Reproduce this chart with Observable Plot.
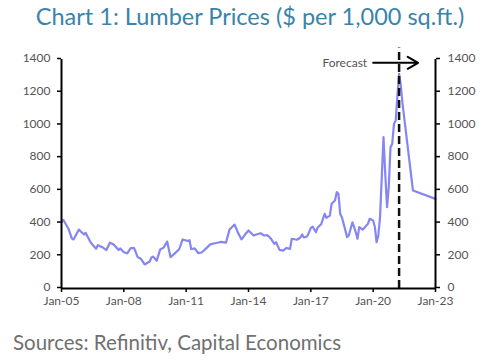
<!DOCTYPE html>
<html>
<head>
<meta charset="utf-8">
<script src="https://cdn.jsdelivr.net/npm/d3@7"></script>
<script src="https://cdn.jsdelivr.net/npm/@observablehq/plot@0.6"></script>
<style>
  html, body { margin: 0; padding: 0; background: #fff; }
  #wrap { position: relative; width: 500px; height: 361px; overflow: hidden; font-family: Lato, "Open Sans", sans-serif; }
  #title { position: absolute; left: 0; top: 2px; width: 500px; text-align: center; font-size: 23.5px; color: #3a84aa; white-space: nowrap; }
  #source { position: absolute; left: 13px; top: 330px; font-size: 20.5px; color: #707070; white-space: nowrap; }
  svg text { font-family: Lato, "Open Sans", sans-serif; }
</style>
</head>
<body>
<div id="wrap">
  <div id="chart"></div>
  <div id="title">Chart 1: Lumber Prices ($ per 1,000 sq.ft.)</div>
  <div id="source">Sources: Refinitiv, Capital Economics</div>
</div>
<script>
const months = [
  "2005-01","2005-02","2005-05","2005-07","2005-08","2005-11",
  "2006-02","2006-03","2006-06","2006-09","2006-10",
  "2007-01","2007-03","2007-05","2007-07","2007-08","2007-10","2007-11",
  "2008-01","2008-03","2008-05","2008-07","2008-09","2008-11",
  "2009-01","2009-04","2009-05","2009-06","2009-08","2009-10","2009-12",
  "2010-02","2010-04","2010-06","2010-09","2010-11",
  "2011-02","2011-03","2011-04","2011-06","2011-08","2011-10",
  "2012-01","2012-03","2012-05","2012-07","2012-09","2012-12",
  "2013-02","2013-03","2013-05","2013-07","2013-09","2013-11",
  "2014-01","2014-02","2014-04","2014-06","2014-08","2014-10","2014-12",
  "2015-02","2015-04","2015-05","2015-07","2015-09","2015-11",
  "2016-01","2016-02","2016-05","2016-07","2016-08","2016-09","2016-11",
  "2017-01","2017-02","2017-04","2017-05","2017-07","2017-09","2017-10","2017-12",
  "2018-01","2018-03","2018-04","2018-05","2018-06","2018-07","2018-10","2018-11",
  "2019-01","2019-02","2019-03","2019-04","2019-05","2019-07","2019-08","2019-10","2019-11",
  "2020-01","2020-02","2020-03","2020-04","2020-05","2020-07","2020-08","2020-09","2020-10","2020-11","2020-12",
  "2021-01","2021-02","2021-03","2021-04","2021-05","2021-06","2021-12",
  "2023-01"
];
const prices = [
  405,420,367,306,300,360,
  330,340,280,243,265,
  250,235,280,270,260,235,245,
  222,215,247,247,192,180,
  147,165,190,195,170,238,250,
  287,192,210,240,300,
  290,295,240,245,216,220,
  250,270,275,280,285,280,
  360,370,391,340,300,330,
  355,344,324,332,338,324,326,
  304,273,283,236,232,248,
  242,304,298,312,330,312,320,
  371,378,344,373,393,456,432,446,
  518,538,589,579,456,436,314,326,
  405,375,344,304,375,360,371,395,426,
  416,375,283,324,436,925,701,497,619,864,884,
  1007,1027,1170,1313,1241,1129,599,
  548
];
const xTickMonths = ["2005-01","2008-01","2011-01","2014-01","2017-01","2020-01","2023-01"];
const yTicks = [0,200,400,600,800,1000,1200,1400];
const forecastStart = "2021-04";
const forecastLabel = "Forecast";
const arrowFrom = "2020-01";
const arrowTo = "2022-03";
const arrowValue = 1380;

const parse = d3.utcParse("%Y-%m");
const data = months.map((m, i) => ({date: parse(m), price: prices[i]}));
const xDomain = [parse(xTickMonths[0]), parse(xTickMonths[xTickMonths.length - 1])];

const chart = Plot.plot({
  width: 500,
  height: 361,
  marginLeft: 61,
  marginRight: 65,
  marginTop: 59,
  marginBottom: 73,
  style: {fontSize: "12px", color: "#555", background: "transparent"},
  x: {type: "utc", domain: xDomain},
  y: {domain: [0, 1400]},
  marks: [
    Plot.axisX({ticks: xTickMonths.map(parse), tickFormat: d3.utcFormat("%b-%y"), tickSize: 4, tickPadding: 4, stroke: "#000", strokeWidth: 1.5, label: null, fill: "#555", fontSize: 12, letterSpacing: "0.2px"}),
    Plot.axisY({anchor: "left", ticks: yTicks, tickSize: 4, tickPadding: 7, stroke: "#000", strokeWidth: 1.5, label: null, fill: "#555", fontSize: 12, letterSpacing: "0.5px", dy: -1, tickFormat: d => String(d)}),
    Plot.axisY({anchor: "right", ticks: yTicks, tickSize: 4, tickPadding: 8, stroke: "#000", strokeWidth: 1.5, label: null, fill: "#555", fontSize: 12, letterSpacing: "0.5px", dy: -1, tickFormat: d => String(d)}),
    Plot.lineY(data, {x: "date", y: "price", stroke: "#8686f2", strokeWidth: 2.2, curve: "linear"}),
    Plot.ruleX([parse(forecastStart)], {y1: 0, y2: 1470, stroke: "#111", strokeWidth: 2.5, strokeDasharray: "8,4"}),
    Plot.ruleX([xDomain[0], xDomain[1]], {y1: 0, y2: 1400, stroke: "#000", strokeWidth: 2}),
    Plot.ruleY([0], {stroke: "#000", strokeWidth: 2}),
    Plot.arrow([{x1: parse(arrowFrom), x2: parse(arrowTo), y: arrowValue}], {x1: "x1", x2: "x2", y1: "y", y2: "y", stroke: "#000", strokeWidth: 2, headLength: 9, headAngle: 60}),
    Plot.text([{x: parse(arrowFrom), y: arrowValue, t: forecastLabel}], {x: "x", y: "y", text: "t", textAnchor: "end", dx: -6, dy: 0, fontSize: 12, fill: "#555", letterSpacing: "0.7px"})
  ]
});
document.getElementById("chart").appendChild(chart);
</script>
</body>
</html>
